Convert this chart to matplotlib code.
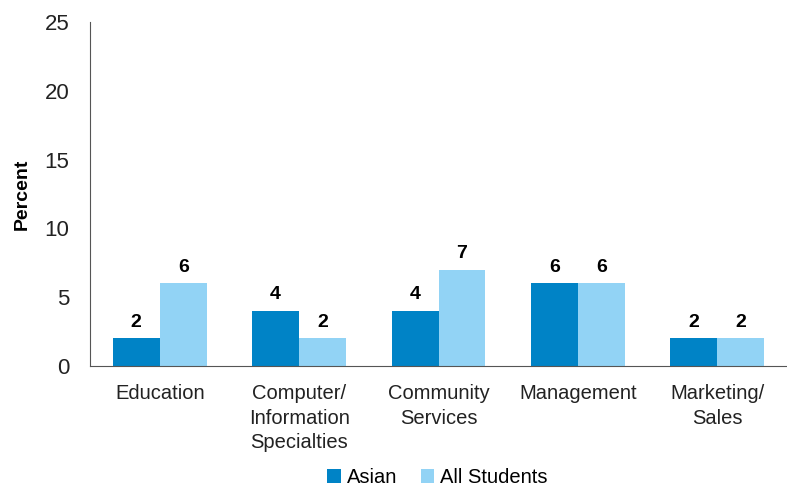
import matplotlib.pyplot as plt
import numpy as np

plt.rcParams['font.family'] = ['Liberation Sans', 'DejaVu Sans']

categories = ['Education', 'Computer/\nInformation\nSpecialties', 'Community\nServices', 'Management', 'Marketing/\nSales']
asian = [2, 4, 4, 6, 2]
all_students = [6, 2, 7, 6, 2]

dark = '#0083c6'
light = '#92d3f5'

fig = plt.figure(figsize=(7.87, 4.93), dpi=100)
ax = fig.add_axes([0.1144, 0.2576, 0.8856, 0.6978])

x = np.arange(len(categories))
w = 0.337
b1 = ax.bar(x - w / 2, asian, w, color=dark, label='Asian')
b2 = ax.bar(x + w / 2, all_students, w, color=light, label='All Students')

for bars in (b1, b2):
    for bar in bars:
        ax.text(bar.get_x() + bar.get_width() / 2, bar.get_height() + 0.55,
                f'{bar.get_height():g}', ha='center', va='bottom',
                fontsize=14, fontweight='bold', color='black')

ax.set_xlim(-0.5, len(categories) - 0.5)
ax.set_ylim(0, 25)
ax.set_yticks([0, 5, 10, 15, 20, 25])
ax.set_xticks(x)
ax.set_xticklabels(categories, fontsize=14.5, color='#222222', linespacing=1.38, va='top')
ax.tick_params(axis='y', length=0, pad=15, labelsize=16, labelcolor='#222222')
ax.tick_params(axis='x', length=0, pad=13)
ax.set_ylabel('Percent', fontsize=14, fontweight='bold', labelpad=10)

for s in ['top', 'right']:
    ax.spines[s].set_visible(False)
ax.spines['left'].set_color('#555555')
ax.spines['bottom'].set_color('#555555')

fig.legend(handles=[b1, b2], loc='lower center', bbox_to_anchor=(0.556, -0.025), ncol=2,
           frameon=False, fontsize=14.5, handlelength=0.65, handleheight=0.65,
           handletextpad=0.3, columnspacing=1.2)

fig.savefig('out.png', dpi=100)
